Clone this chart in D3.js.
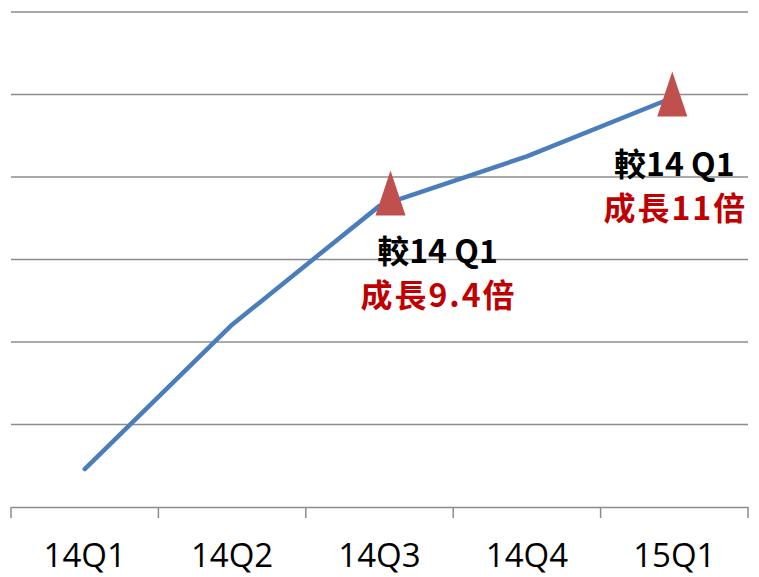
<!DOCTYPE html>
<html><head><meta charset="utf-8">
<script src="https://cdn.jsdelivr.net/npm/d3@7/dist/d3.min.js"></script>
<style>body{margin:0;background:#fff;}</style>
</head><body>
<svg id="chart" width="759" height="577"></svg>
<script>
const categories = ["14Q1","14Q2","14Q3","14Q4","15Q1"];
const values = [0.46, 2.21, 3.65, 4.25, 4.97];
const gridTicks = [0,1,2,3,4,5,6];
const markerCats = ["14Q3","15Q1"];
const markerValues = [3.8, 5.0];
const noteValues = [2.96, 4.01];
const noteTop = ["較14 Q1","較14 Q1"];
const noteBottom = ["成長9.4倍","成長11倍"];

(function(){
const svg = d3.select("#chart");
const mL = 11, mR = 748, mT = 12, mB = 507;
const x = d3.scaleBand().domain(categories).range([mL, mR]);
const y = d3.scaleLinear().domain([0, 6]).range([mB, mT]);
const cx = c => x(c) + x.bandwidth()/2;

svg.append("g").selectAll("line").data(gridTicks.slice(1)).join("line")
  .attr("x1", mL).attr("x2", mR)
  .attr("y1", d => y(d)).attr("y2", d => y(d))
  .attr("stroke", "#8c8c8c").attr("stroke-width", 1.5);

const ax = svg.append("g").attr("transform", `translate(0,${mB})`)
  .call(d3.axisBottom(x).tickSize(0));
ax.select(".domain").attr("stroke", "#8c8c8c").attr("stroke-width", 1.5);
ax.selectAll("text").attr("y", 60).attr("dy", null)
  .attr("font-family", "Open Sans, sans-serif").attr("font-size", 33).attr("fill", "#000");
const edges = categories.map(c => x(c)).concat([mR]);
svg.append("g").selectAll("line").data(edges).join("line")
  .attr("x1", d => d).attr("x2", d => d)
  .attr("y1", mB).attr("y2", mB + 11)
  .attr("stroke", "#8c8c8c").attr("stroke-width", 1.5);

const line = d3.line().x((d,i) => cx(categories[i])).y(d => y(d));
svg.append("path").datum(values).attr("d", line)
  .attr("fill", "none").attr("stroke", "#4a7ebb").attr("stroke-width", 4.5)
  .attr("stroke-linecap", "round").attr("stroke-linejoin", "round");

const mdx = [11, -2];
svg.append("g").selectAll("path").data(markerCats).join("path")
  .attr("transform", (c,i) => `translate(${cx(c)+mdx[i]},${y(markerValues[i])})`)
  .attr("d", "M0,-23 L15,22 L-15,22 Z")
  .attr("fill", "#c0504d");

const ndx = [58, 0];
const g = svg.append("g").attr("font-family", "Noto Sans CJK TC, sans-serif").attr("font-weight", "bold").attr("text-anchor", "middle");
markerCats.forEach((c,i) => {
  const bx = cx(c) + ndx[i];
  const by = y(noteValues[i]);
  g.append("text").attr("x", bx).attr("y", by).attr("font-size", 32).attr("fill", "#000").text(noteTop[i]);
  g.append("text").attr("x", bx + 1).attr("y", by + 44).attr("font-size", 32).attr("letter-spacing", 2).attr("fill", "#c00000").text(noteBottom[i]);
});
})();
</script>
</body></html>
